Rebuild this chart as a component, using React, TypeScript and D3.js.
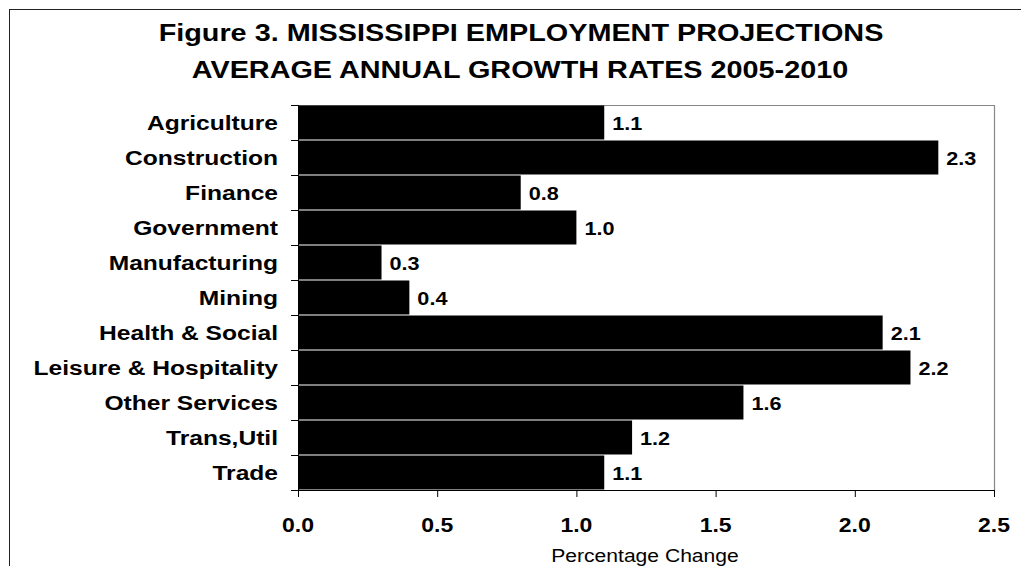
import React from "react";
import * as d3 from "d3";

const categories = [
  "Agriculture",
  "Construction",
  "Finance",
  "Government",
  "Manufacturing",
  "Mining",
  "Health & Social",
  "Leisure & Hospitality",
  "Other Services",
  "Trans,Util",
  "Trade",
];
const values = [1.1, 2.3, 0.8, 1.0, 0.3, 0.4, 2.1, 2.2, 1.6, 1.2, 1.1];
const xTicks = [0, 0.5, 1.0, 1.5, 2.0, 2.5];
const titleLines = [
  "Figure 3. MISSISSIPPI EMPLOYMENT PROJECTIONS",
  "AVERAGE ANNUAL GROWTH RATES 2005-2010",
];
const xAxisTitle = "Percentage Change";

const W = 1021;
const H = 566;
const FONT = "'Liberation Sans', Arial, Helvetica, sans-serif";

const plot = { left: 298, right: 994, top: 105, bottom: 490 };

function SText(props: {
  x: number;
  y: number;
  sx?: number;
  size: number;
  bold?: boolean;
  anchor?: "start" | "middle" | "end";
  fill?: string;
  children: React.ReactNode;
}) {
  const { x, y, sx = 1.2, size, bold = true, anchor = "start", fill = "#000" } = props;
  return (
    <text
      transform={`translate(${x},${y}) scale(${sx},1)`}
      fontFamily={FONT}
      fontSize={size}
      fontWeight={bold ? "bold" : "normal"}
      textAnchor={anchor}
      fill={fill}
    >
      {props.children}
    </text>
  );
}

export default function App() {
  const x = d3.scaleLinear().domain([0, 2.5]).range([plot.left, plot.right]);
  const y = d3
    .scaleBand<string>()
    .domain(categories)
    .range([plot.top, plot.bottom])
    .paddingInner(0)
    .paddingOuter(0);
  const bw = y.bandwidth();
  const boundaries = d3.range(categories.length + 1).map((i) => plot.top + i * bw);

  return (
    <svg
      width={W}
      height={H}
      style={{ position: "fixed", left: 0, top: 0, background: "#fff" }}
    >
      <rect x={0} y={0} width={W} height={H} fill="#fff" />
      {/* outer frame */}
      <rect x={9.5} y={9.5} width={W + 20} height={H + 20} fill="none" stroke="#222" strokeWidth={1} />

      {/* title */}
      <SText x={521} y={41} size={24} sx={1.2} anchor="middle">
        {titleLines[0]}
      </SText>
      <SText x={520} y={78} size={24} sx={1.2} anchor="middle">
        {titleLines[1]}
      </SText>

      {/* plot area border (top/right grey) */}
      <line x1={plot.left} x2={plot.right + 0.5} y1={plot.top + 0.5} y2={plot.top + 0.5} stroke="#888" strokeWidth={1} />
      <line x1={plot.right + 0.5} x2={plot.right + 0.5} y1={plot.top} y2={plot.bottom} stroke="#888" strokeWidth={1.2} />

      {/* bars */}
      {categories.map((c, i) => {
        const y0 = y(c)!;
        return (
          <rect
            key={c}
            x={x(0)}
            y={y0 + 0.5}
            width={x(values[i]) - x(0)}
            height={bw - 1}
            fill="#000"
          />
        );
      })}

      {/* value labels */}
      {categories.map((c, i) => (
        <SText
          key={c + "v"}
          x={x(values[i]) + 8}
          y={y(c)! + bw / 2 + 7}
          size={18.5}
          sx={1.17}
        >
          {values[i].toFixed(1)}
        </SText>
      ))}

      {/* y axis */}
      <line x1={plot.left + 0.5} x2={plot.left + 0.5} y1={plot.top} y2={plot.bottom + 7} stroke="#000" strokeWidth={1} />
      {boundaries.map((b, i) => (
        <line key={"yt" + i} x1={plot.left - 7} x2={plot.left} y1={b + 0.5} y2={b + 0.5} stroke="#000" strokeWidth={1} />
      ))}
      {categories.map((c) => (
        <SText key={c + "l"} x={278} y={y(c)! + bw / 2 + 7.5} size={20.5} sx={1.2} anchor="end">
          {c}
        </SText>
      ))}

      {/* x axis */}
      <line x1={plot.left} x2={plot.right + 1} y1={plot.bottom + 0.5} y2={plot.bottom + 0.5} stroke="#000" strokeWidth={1} />
      {xTicks.map((t) => (
        <g key={"xt" + t}>
          <line x1={x(t) + 0.5} x2={x(t) + 0.5} y1={plot.bottom} y2={plot.bottom + 7} stroke="#000" strokeWidth={1} />
          <SText x={x(t)} y={532} size={20} sx={1.15} anchor="middle">
            {t.toFixed(1)}
          </SText>
        </g>
      ))}
      <SText x={645} y={562} size={18.5} sx={1.14} bold={false} anchor="middle">
        {xAxisTitle}
      </SText>
    </svg>
  );
}
